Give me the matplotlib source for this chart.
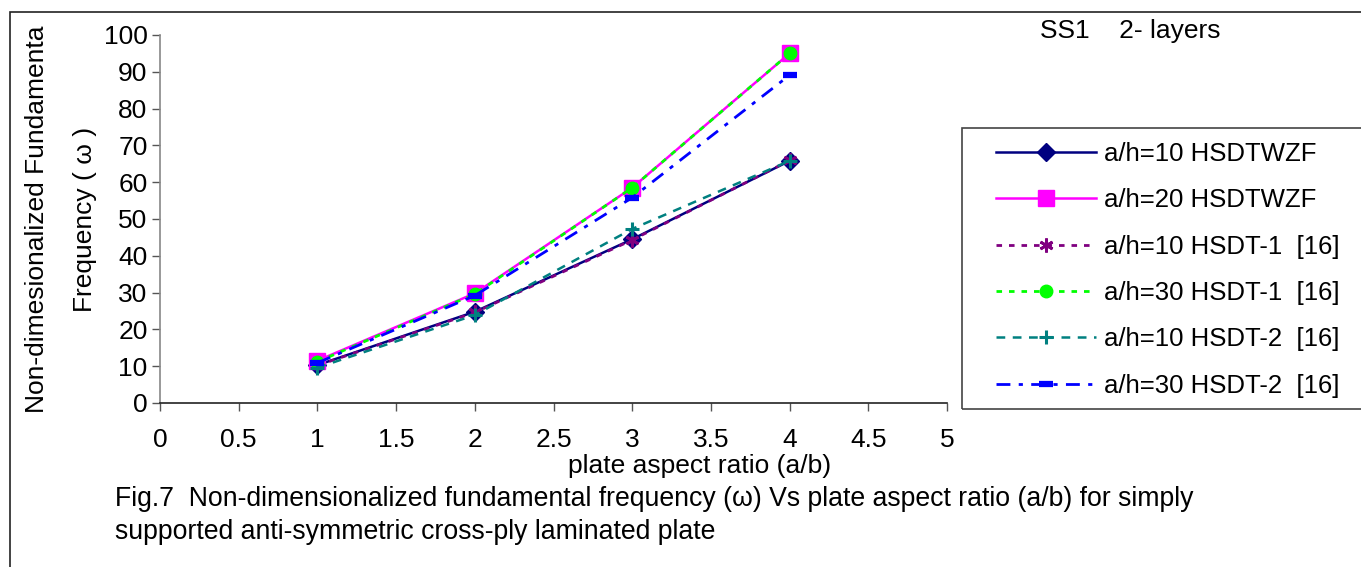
import matplotlib.pyplot as plt
from matplotlib.patches import Rectangle

plt.rcParams['font.family'] = ['Liberation Sans', 'DejaVu Sans']

# 板长宽比
aspect = [1, 2, 3, 4]

# 无量纲基频
wzf_10 = [10.3, 24.8, 44.5, 65.8]
wzf_20 = [11.5, 29.8, 58.5, 95.0]
hsdt1_10 = [10.2, 24.6, 44.3, 65.9]
hsdt1_30 = [11.2, 29.6, 58.5, 95.0]
hsdt2_10 = [9.6, 23.9, 47.3, 65.8]
hsdt2_30 = [10.9, 29.2, 55.8, 89.1]

labels = ['a/h=10 HSDTWZF', 'a/h=20 HSDTWZF', 'a/h=10 HSDT-1  [16]',
          'a/h=30 HSDT-1  [16]', 'a/h=10 HSDT-2  [16]', 'a/h=30 HSDT-2  [16]']

x_ticks = [0, 0.5, 1, 1.5, 2, 2.5, 3, 3.5, 4, 4.5, 5]
y_ticks = list(range(0, 101, 10))

fs = 19

fig = plt.figure(figsize=(13.61, 5.67), dpi=100)
ax = fig.add_axes([160 / 1361, 1 - 403 / 567, 787 / 1361, 368 / 567])

# 曲线样式
styles = [
    dict(color='#000080', ls='-', marker='D', ms=9, lw=1.8),
    dict(color='#FF00FF', ls='-', marker='s', ms=11, lw=1.8),
    dict(color='#800080', ls=(0, (2, 2.5)), marker=(6, 2, 0), ms=10, mew=2, lw=2),
    dict(color='#00FF00', ls=(0, (2, 2.5)), marker='o', ms=9, lw=2),
    dict(color='#008080', ls=(0, (3.5, 3)), marker='+', ms=10, mew=2.2, lw=1.8),
    dict(color='#0000FF', ls=(0, (5, 3, 1.5, 3)), marker='_', ms=10, mew=4.5, lw=2),
]
series = [wzf_10, wzf_20, hsdt1_10, hsdt1_30, hsdt2_10, hsdt2_30]

handles = []
for vals, st, lab in zip(series, styles, labels):
    h, = ax.plot(aspect, vals, label=lab, **st)
    handles.append(h)

ax.set_xlim(0, 5)
ax.set_ylim(0, 100)
ax.set_xticks(x_ticks)
ax.set_xticklabels(['0', '0.5', '1', '1.5', '2', '2.5', '3', '3.5', '4', '4.5', '5'])
ax.set_yticks(y_ticks)
ax.tick_params(direction='out', length=6, width=1, labelsize=fs, color='#555555')
ax.tick_params(axis='x', pad=12)
ax.tick_params(axis='y', pad=3)
for s in ['top', 'right']:
    ax.spines[s].set_visible(False)
ax.spines['bottom'].set_color('#222222')
ax.spines['bottom'].set_linewidth(1.2)
ax.spines['left'].set_color('#888888')
ax.spines['left'].set_linewidth(1.2)

# x轴标题（Excel 中偏右）
fig.text(700 / 1361, 1 - 466 / 567, 'plate aspect ratio (a/b)', fontsize=fs,
         ha='center', va='center')
ax.set_ylabel('Non-dimesionalized Fundamenta\nFrequency ( ω )', fontsize=fs,
              labelpad=5, linespacing=2.24)

# 图例：外框单独画
fig.add_artist(Rectangle((962 / 1361, 1 - 409 / 567), 0.5, 281 / 567, transform=fig.transFigure,
                         fill=False, edgecolor='#444444', lw=1.2))
leg = fig.legend(handles=handles, loc='upper left', bbox_to_anchor=(996 / 1361, 1 - 142 / 567),
                 fontsize=18.5, frameon=False, handlelength=3.9,
                 labelspacing=0.87, borderpad=0, handletextpad=0.31, borderaxespad=0)

fig.text(1040 / 1361, 1 - 31 / 567, 'SS1    2- layers', fontsize=fs, va='center')
fig.text(115 / 1361, 1 - 499 / 567,
         'Fig.7  Non-dimensionalized fundamental frequency (ω) Vs plate aspect ratio (a/b) for simply',
         fontsize=19.2, va='center')
fig.text(115 / 1361, 1 - 532 / 567, 'supported anti-symmetric cross-ply laminated plate',
         fontsize=19.2, va='center')

# 外框
fig.add_artist(Rectangle((10 / 1361, -0.1), 1.2, 1 - 12 / 567 + 0.1, transform=fig.transFigure,
                         fill=False, edgecolor='#222222', lw=1.2))

fig.savefig('out.png', dpi=100)
